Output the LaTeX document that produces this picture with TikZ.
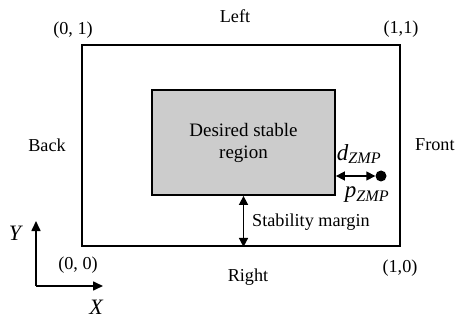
\documentclass[tikz,border=0pt]{standalone}
\usepackage{fontspec}
\setmainfont{Liberation Serif}
\usetikzlibrary{arrows.meta}
\definecolor{stablegray}{gray}{0.8}

\begin{document}
\begin{tikzpicture}[x=1pt, y=-1pt,
  box/.style={draw, line width=1.8pt, inner sep=0pt},
  lbl/.style={font=\fontsize{18.2}{20}\selectfont, inner sep=0pt},
  axlbl/.style={font=\fontsize{22}{24}\selectfont\itshape, inner sep=0pt},
  arr/.style={{Triangle[length=9pt, width=9pt]}-{Triangle[length=9pt, width=9pt]}, line width=1.6pt},
  axarr/.style={-{Triangle[length=10pt, width=9pt]}, line width=1.6pt},
]
\useasboundingbox (0,0) rectangle (457,320);
% Boxes
\node[box, minimum width=318pt, minimum height=201pt] (outer) at (241,145.5) {};
\node[box, fill=stablegray, minimum width=183pt, minimum height=105pt,
      align=center, font=\fontsize{19}{22}\selectfont] (inner) at (243.5,142.5)
      {Desired stable\\region};
% Side labels
\node[lbl] (left) at (235,16) {Left};
\node[lbl] (right) at (248,277) {Right};
\node[lbl] (back) at (47,145) {Back};
\node[lbl, anchor=west] (front) at (415,145) {Front};
% Corner labels
\node[lbl] (c01) at (73,30) {(0, 1)};
\node[lbl] (c11) at (401,29) {(1,1)};
\node[lbl] (c00) at (78,265) {(0, 0)};
\node[lbl] (c10) at (400,268) {(1,0)};
% ZMP
\node[circle, fill, inner sep=0pt, minimum size=11pt] (pzmp) at (381,176) {};
\draw[arr] (inner.east |- pzmp) -- (pzmp.west);
\node[lbl, font=\fontsize{23}{24}\selectfont] (dlbl) at (359,154)
  {\textit{d}\textsubscript{\textit{ZMP}}};
\node[lbl, font=\fontsize{23}{24}\selectfont] (plbl) at (367,195)
  {\textit{p}\textsubscript{\textit{ZMP}}};
% Stability margin
\draw[arr] (inner.south) -- (inner.south |- outer.south);
\node[lbl, anchor=west] (margin) at (252,222) {Stability margin};
% Axes
\coordinate (orig) at (36,286);
\coordinate (ytip) at (36,221);
\coordinate (xtip) at (103,286);
\draw[axarr] (orig) -- (ytip);
\draw[axarr] (orig) -- (xtip);
\node[axlbl] (ylbl) at (15,233) {Y};
\node[axlbl] (xlbl) at (96,307) {X};
\end{tikzpicture}
\end{document}
